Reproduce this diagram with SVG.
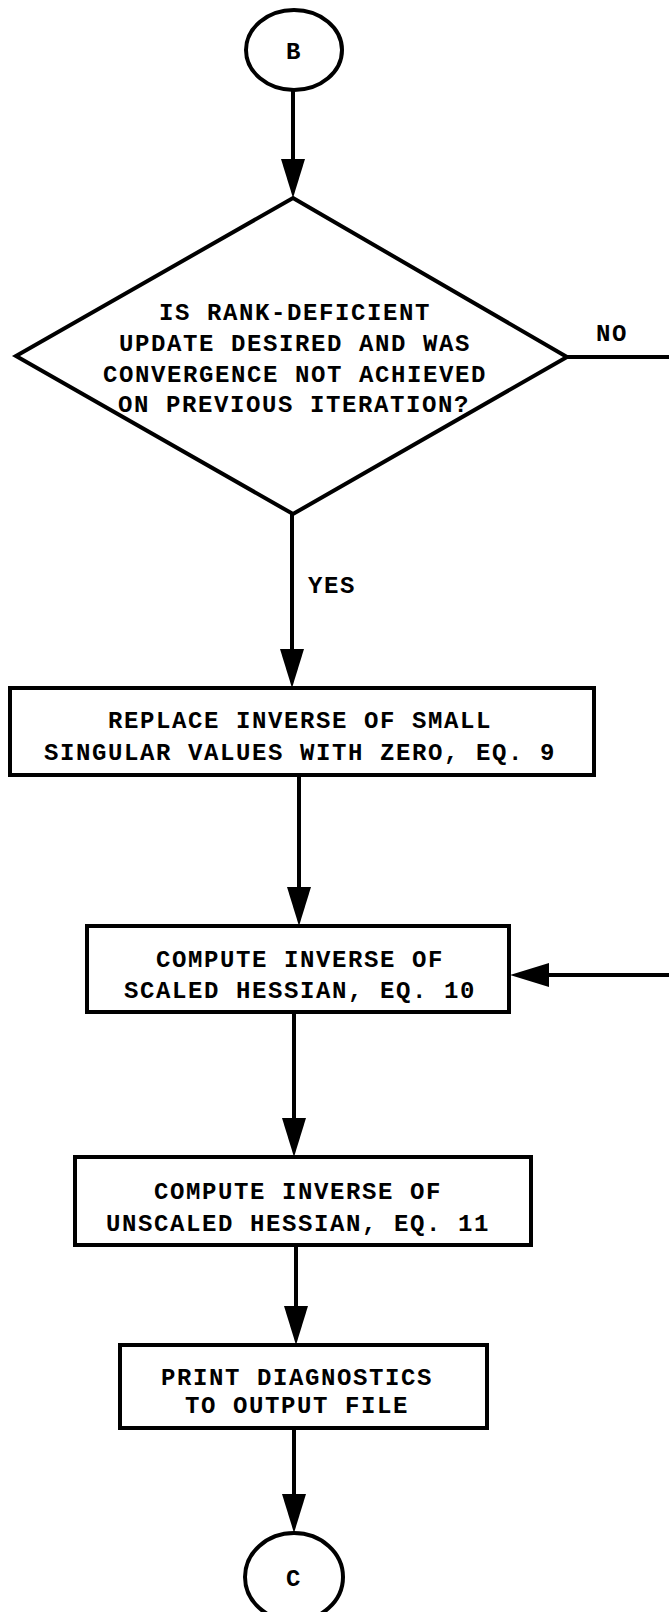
<svg xmlns="http://www.w3.org/2000/svg" width="669" height="1612" viewBox="0 0 669 1612">
  <defs>
    <style>
      .shape { fill: #fff; stroke: #000; stroke-width: 4; stroke-linejoin: miter; }
      .wire { fill: none; stroke: #000; stroke-width: 4; }
      .lbl { font-family: "Liberation Mono", "Courier New", monospace; font-size: 24px; font-weight: bold; letter-spacing: 1.6px; fill: #000; text-anchor: middle; }
    </style>
    <!-- filled arrowhead; its base sits on the line end -->
    <marker id="head" markerUnits="userSpaceOnUse" markerWidth="40" markerHeight="24" refX="0" refY="12" orient="auto">
      <path d="M0,0 L39,12 L0,24 Z" fill="#000"/>
    </marker>
  </defs>
  <rect width="669" height="1612" fill="#fff"/>

  <g id="connectors">
    <line class="wire" x1="293" y1="91" x2="293" y2="159" marker-end="url(#head)"/>
    <polyline class="wire" points="567,357 669,357"/>
    <line class="wire" x1="292" y1="514" x2="292" y2="649" marker-end="url(#head)"/>
    <line class="wire" x1="299" y1="775" x2="299" y2="887" marker-end="url(#head)"/>
    <line class="wire" x1="669" y1="975" x2="549" y2="975" marker-end="url(#head)"/>
    <line class="wire" x1="294" y1="1012" x2="294" y2="1118" marker-end="url(#head)"/>
    <line class="wire" x1="296" y1="1245" x2="296" y2="1306" marker-end="url(#head)"/>
    <line class="wire" x1="294" y1="1428" x2="294" y2="1494" marker-end="url(#head)"/>
    <text class="lbl" x="612" y="341">NO</text>
    <text class="lbl" x="332" y="593">YES</text>
  </g>

  <g id="connector-b">
    <ellipse class="shape" cx="294" cy="50" rx="48" ry="40"/>
    <text class="lbl" x="294" y="59">B</text>
  </g>

  <g id="decision-rank">
    <polygon class="shape" points="293,198 567,357 293,514 16,356"/>
    <text class="lbl" x="295" y="320">IS RANK-DEFICIENT</text>
    <text class="lbl" x="295" y="351">UPDATE DESIRED AND WAS</text>
    <text class="lbl" x="295" y="382">CONVERGENCE NOT ACHIEVED</text>
    <text class="lbl" x="294" y="412">ON PREVIOUS ITERATION?</text>
  </g>

  <g id="step-replace">
    <rect class="shape" x="10" y="688" width="584" height="87"/>
    <text class="lbl" x="300" y="728">REPLACE INVERSE OF SMALL</text>
    <text class="lbl" x="300" y="760">SINGULAR VALUES WITH ZERO, EQ. 9</text>
  </g>

  <g id="step-scaled">
    <rect class="shape" x="87" y="926" width="422" height="86"/>
    <text class="lbl" x="300" y="967">COMPUTE INVERSE OF</text>
    <text class="lbl" x="300" y="998">SCALED HESSIAN, EQ. 10</text>
  </g>

  <g id="step-unscaled">
    <rect class="shape" x="75" y="1157" width="456" height="88"/>
    <text class="lbl" x="298" y="1199">COMPUTE INVERSE OF</text>
    <text class="lbl" x="298" y="1231">UNSCALED HESSIAN, EQ. 11</text>
  </g>

  <g id="step-print">
    <rect class="shape" x="120" y="1345" width="367" height="83"/>
    <text class="lbl" x="297" y="1385">PRINT DIAGNOSTICS</text>
    <text class="lbl" x="297" y="1413">TO OUTPUT FILE</text>
  </g>

  <g id="connector-c">
    <ellipse class="shape" cx="294" cy="1577" rx="49" ry="44"/>
    <text class="lbl" x="294" y="1586">C</text>
  </g>
</svg>
